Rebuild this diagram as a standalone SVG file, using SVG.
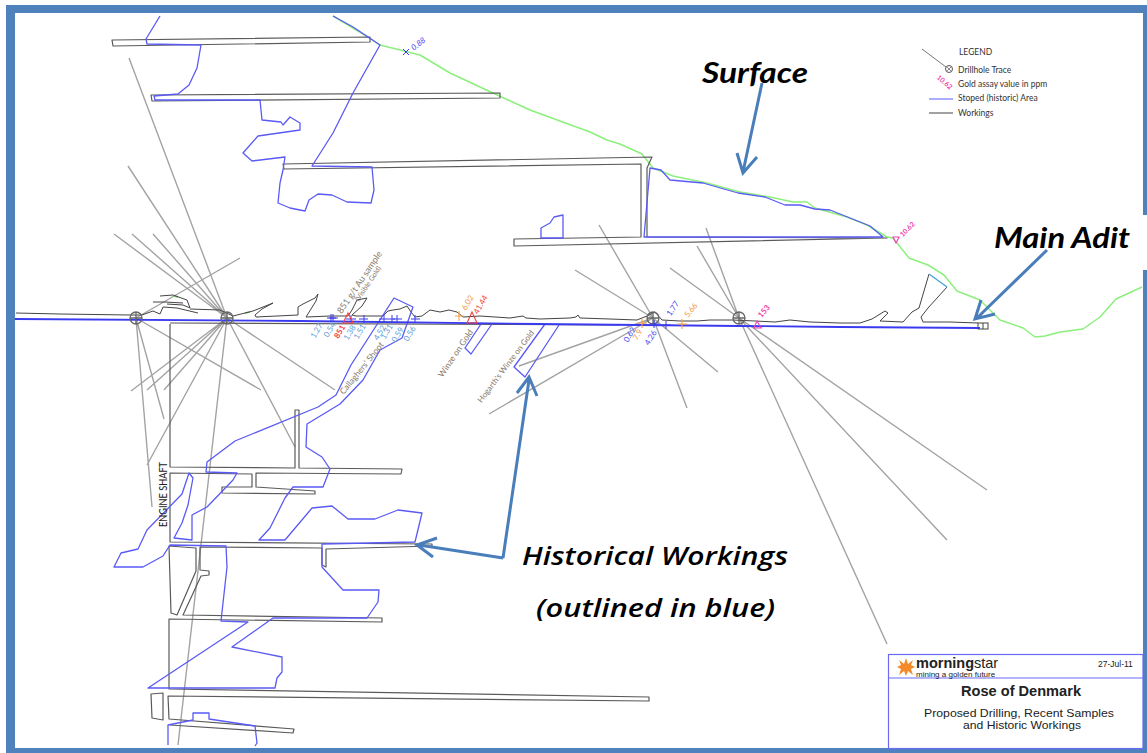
<svg xmlns="http://www.w3.org/2000/svg" width="1147" height="753" viewBox="0 0 1147 753">
<style>
.wk{fill:none;stroke:#5a5a5a;stroke-width:1.2;stroke-linejoin:round}
.mn{fill:none;stroke:#444;stroke-width:1;stroke-linejoin:round}
.st{fill:none;stroke:#5a5af5;stroke-width:1.3;stroke-linejoin:round}
.dh{fill:none;stroke:#a3a3a3;stroke-width:1.4}
.gr{fill:none;stroke:#8cf07c;stroke-width:1.5;stroke-linejoin:round}
.col{fill:none;stroke:#666;stroke-width:1.3}
.ar{fill:none;stroke:#4a7ebb;stroke-width:3;stroke-linejoin:miter}
.cb{stroke:#3a3af0;stroke-width:1;fill:none}
.co{stroke:#f7a24a;stroke-width:1.1;fill:none}
text{font-family:"Lato","Open Sans","Liberation Sans",sans-serif}
.s{font-size:8px;text-anchor:middle}
.lb{fill:#5b9bd5}.lu{fill:#4848f0}.lr{fill:#f24040}.lo{fill:#f79646}.lm{fill:#f040b0}
.br{font-size:8.500px;fill:#85786a;text-anchor:middle}
.lg{font-size:8.500px;fill:#333}
.big{font-weight:700;font-style:italic;fill:#000}
.tb{font-family:"Liberation Sans",Arial,sans-serif;fill:#222;text-anchor:middle}
</style>
<rect width="1147" height="753" fill="#fff"/>
<g id="frame" fill="#4f81bd">
<rect x="6" y="5" width="1141" height="8"/><rect x="6" y="5" width="9" height="748"/><rect x="1143" y="5" width="4" height="748"/><rect x="6" y="748" width="1141" height="5"/>
</g>
<g id="drillholes">
<path class="dh" d="M227 318L129 58M227 318L128 166M227 318L114 234M227 318L132 234M227 318L153 234M227 318L131 391M227 318L147 390M227 318L164 390M227 318L147 465M227 318L178 745M227 318L295 447M227 318L335 390M136 318L240 258M136 318L261 390M136 318L164 419M136 318L152 507"/>
<path class="dh" d="M653 318L599 225M653 318L575 270M653 318L687 408M653 318L718 372M653 318L489 414M653 318L519 366M739 318L670 268M739 318L706 228M739 318L697 246M739 318L887 644M739 318L947 540M739 318L987 490"/>
</g>
<g id="surface">
<path class="gr" d="M333 16L368 37L380 45L420 55L450 73L480 87L530 110L590 132L607 140L620 144L642 154L653 168L673 176L707 183L740 192L770 197L793 202L807 202L815 208L847 217L867 225L887 237L893 238L909 258L928 265L944 275L957 291L980 300L1000 320L1023 328L1035 337L1045 336L1060 332L1083 329L1100 317L1116 299L1142 287"/>
<path d="M174 296L178 297M245 313L250 312" fill="none" stroke="#6cc860" stroke-width="1.500"/>
</g>
<g id="workings">
<path class="wk" d="M112 40L370 37L370 42L113 46Z"/>
<path class="wk" d="M151 95L500 93L500 98L152 101Z"/>
<path class="wk" d="M283 164L652 157L647 168L647 237L887 238L514 246L514 239L641 237L641 164L284 169Z"/>
<path class="wk" d="M170 323L620 325M170 324L170 467L295 468L295 410L299 410L299 468L402 469L401 474L256 473L256 487L315 491L315 494L222 493L222 487L252 487L252 474L170 473L170 542L432 544L432 546L326 549L326 567L322 565L322 548L200 547L200 570L209 571L209 575L201 576L183 615L382 618L382 622L169 619L169 689L649 697L649 701L168 696L169 719L294 729L293 733L170 725"/>
<path class="wk" d="M169 546L196 548L196 571L177 615L171 613Z"/>
<path class="wk" d="M151 694L163 693L163 720L152 718Z"/>
<path class="mn" d="M16 313L60 314L130 315L142 315L153 311L160 314L163 307L177 308L198 313M190 309L220 310L233 316L253 311L273 303L262 309L255 315L256 317L298 315L298 307L303 304L315 298L318 294L316 301L306 317L330 316L348 316L352 310L357 300L367 298L362 306L352 315L356 316L383 316L388 311L393 310L400 309L407 306L411 312L415 317L422 316L430 310L440 312L449 310L457 312L463 317L480 316L510 318L523 316L526 318L540 319L570 318L576 317L578 315L580 318L610 319L637 320L647 316L655 312L662 320L680 321L697 321L710 320L733 320L755 321L775 322L790 320L810 322L840 323L860 323L872 319L885 311L888 313L880 321L903 322L912 312L919 308L929 274M947 287L928 308L921 317L923 322L950 322L978 323"/>
<path class="mn" d="M190 308L187 300L173 295L160 296M183 303L165 302L153 302M167 304L183 305L190 308"/>
<path d="M929 274L947 287" fill="none" stroke="#4aa8d8" stroke-width="1.5"/>
<rect x="978" y="323" width="10" height="6" fill="none" stroke="#444" stroke-width="1"/>
<path d="M983 323V329" stroke="#444" fill="none"/>
</g>
<g id="stopes">
<path class="st" d="M160 16L146 39L147 44L201 45L197 68L189 85L178 94L154 96L155 100L260 100L262 120L281 122L283 125L290 117L300 123L300 130L258 136L243 153L252 161L285 157L283 170L280 183L278 203L290 208L305 211L309 200L318 194L332 195L347 202L371 203L374 190L372 167L312 166L333 133L353 93L380 45L368 37L353 27L333 16"/>
<path class="st" d="M644 237L650 168L661 170L670 180L703 183L738 193L765 197L785 205L800 205L815 209L830 210L850 218L870 226L883 237Z"/>
<path class="st" d="M541 238L541 228L550 223L554 217L563 215L563 238Z"/>
<path class="st" d="M394 298L413 307L402 338L380 350L363 380L340 404L307 424L306 447L322 457L330 469L323 487L293 487L285 498L270 528L259 540L285 540L312 508L332 506L348 519L375 519L398 510L422 513L415 542L322 544L322 567L343 590L379 590L378 602L367 618L273 618L232 647L282 657L282 672L277 678L275 688L148 688L248 622L221 621L227 567L226 546L170 545L163 556L143 567L114 567L121 553L138 549L147 530L182 494L189 473L193 478L188 505L182 523L174 538L192 540L192 515L207 507L233 480L237 473L206 472L207 462L235 441L318 407L336 395L351 365Z"/>
<path class="st" d="M168 745L168 725L193 720L193 713L209 713L209 719L255 726L257 743L255 746"/>
<path class="st" d="M481 324L465 348L471 354L492 324"/>
<path class="st" d="M545 324L514 367L525 377L559 325"/>
<path d="M15 319L300 321L540 324L840 327L980 328" fill="none" stroke="#3a3af0" stroke-width="1.800"/>
</g>
<g id="collars">
<circle class="col" cx="136" cy="318" r="6"/><path class="col" d="M130 318H142M136 312V324"/>
<circle class="col" cx="227" cy="318" r="6"/><path class="col" d="M221 318H233M227 312V324"/>
<circle class="col" cx="653" cy="318" r="6"/><path class="col" d="M647 318H659M653 312V324"/>
<circle class="col" cx="739" cy="318" r="6"/><path class="col" d="M733 318H745M739 312V324"/>
</g>
<g id="samples">
<path class="cb" d="M327 318H336M331 314V322M329 318H338M333 314V322M346 319H356M351 315V323M359 319H368M364 315V323M379 319H388M384 315V323M388 319H395M392 315V323M393 319H402M397 315V323M411 319H420M415 315V323M403 49L409 55M409 49L403 55M650 324H659M654 320V328M662 325H671M666 321V329"/>
<path class="co" d="M455 316H464M459 311V321M638 323H647M642 319V328M677 324H687M682 319V329"/>
<path d="M348 313L343 323L353 323Z" fill="none" stroke="#f24040" stroke-width="1.100"/>
<path d="M472 312L467 323L477 323Z" fill="none" stroke="#f24040" stroke-width="1.100"/>
<path d="M757 321L754 328L761 328Z" fill="none" stroke="#f040b0" stroke-width="1.100"/>
<path d="M893 237L899 237L896 243Z" fill="none" stroke="#f040b0" stroke-width="1.100"/>
<text class="s lu" font-style="italic" transform="translate(420 46) rotate(-38)">0.88</text>
<text class="s lb" transform="translate(319 332) rotate(-60)">1.27</text>
<text class="s lb" transform="translate(332 331) rotate(-60)">0.54</text>
<text class="s lr" transform="translate(342 333) rotate(-60)" font-weight="700">851</text>
<text class="s lb" transform="translate(352 334) rotate(-60)">1.38</text>
<text class="s lb" transform="translate(362 333) rotate(-60)">1.51</text>
<text class="s lb" transform="translate(382 334) rotate(-60)">4.52</text>
<text class="s lb" transform="translate(389 333) rotate(-60)">1.31</text>
<text class="s lb" transform="translate(400 336) rotate(-60)">0.59</text>
<text class="s lb" transform="translate(412 335) rotate(-60)">0.56</text>
<text class="s lo" transform="translate(470 304) rotate(-60)">6.02</text>
<text class="s lr" transform="translate(483 306) rotate(-60)">41.44</text>
<text class="s lu" transform="translate(632 336) rotate(-60)">0.62</text>
<text class="s lo" transform="translate(640 336) rotate(-60)">7.9</text>
<text class="s lu" transform="translate(653 339) rotate(-60)">4.26</text>
<text class="s lu" transform="translate(675 310) rotate(-55)">1.77</text>
<text class="s lo" transform="translate(693 312) rotate(-50)">5.66</text>
<text class="s lm" font-weight="700" transform="translate(766 313) rotate(-50)">153</text>
<text class="s lm" font-weight="700" style="font-size:7px" transform="translate(909 231) rotate(-45)">10.62</text>
</g>
<g id="labels">
<text class="br" style="font-size:9px" transform="translate(362 284) rotate(-56)">851 g/t Au sample</text>
<text class="br" style="font-size:7px" transform="translate(370 285) rotate(-56)">(Visible Gold)</text>
<text class="br" transform="translate(364 370) rotate(-51)">Callaghers' Shoot</text>
<text class="br" transform="translate(458 355) rotate(-56)">Winze on Gold</text>
<text class="br" style="font-size:8px" transform="translate(508 368) rotate(-53)">Hogarth's Winze on Gold</text>
<text transform="translate(167 527) rotate(-90)" font-size="10.500" fill="#222" textLength="65" lengthAdjust="spacingAndGlyphs">ENGINE SHAFT</text>
</g>
<g id="legend">
<path d="M922 49L946 67" stroke="#777" stroke-width="1" fill="none"/>
<circle cx="949" cy="69" r="3.500" fill="none" stroke="#555"/><path d="M947 67L951 71M951 67L947 71" stroke="#555" stroke-width=".7"/>
<text class="lg" x="959" y="55">LEGEND</text>
<text class="lg" x="958" y="72.500">Drillhole Trace</text>
<text class="lg" x="958" y="87">Gold assay value in ppm</text>
<text class="lg" x="958" y="101">Stoped (historic) Area</text>
<text class="lg" x="958" y="116">Workings</text>
<text class="s lm" font-weight="700" style="font-size:7px" transform="translate(943 84) rotate(40)">10.62</text>
<path d="M929 99H953" stroke="#9999ff" stroke-width="1.600"/>
<path d="M929 113H953" stroke="#555" stroke-width="1.100"/>
</g>
<g id="annotations">
<rect x="990" y="215" width="157" height="55" fill="#fff"/>
<text class="big" x="702" y="83" font-size="28" textLength="106" lengthAdjust="spacingAndGlyphs">Surface</text>
<text class="big" x="994" y="248" font-size="28" textLength="136" lengthAdjust="spacingAndGlyphs">Main Adit</text>
<text class="big" style="font-family:'Open Sans','Liberation Sans',sans-serif;font-weight:600" x="522" y="565" font-size="25" textLength="266" lengthAdjust="spacingAndGlyphs">Historical Workings</text>
<text class="big" style="font-family:'Open Sans','Liberation Sans',sans-serif;font-weight:600" x="536" y="617" font-size="25" textLength="239" lengthAdjust="spacingAndGlyphs">(outlined in blue)</text>
<path class="ar" d="M762 83L743 172M737 153L743 173L757 157"/>
<path class="ar" d="M1047 250L977 318M981 300L975 319L995 314"/>
<path class="ar" d="M503 558L419 545M437 538L417 545L433 557M503 558L529 380M517 393L529 377L537 396"/>
</g>
<g id="titleblock">
<rect x="888.500" y="654.500" width="254.500" height="94" fill="#fff" stroke="#6a6af5" stroke-width="1.200"/>
<path d="M888 678H1143" stroke="#6a6af5" stroke-width="1.200"/>
<path d="M906 658L908 664L913 660L911 665L915 667L911 669L913 675L908 671L906 676L904 671L899 675L901 669L897 667L901 665L899 660L904 664Z" fill="#f58a2a"/>
<text class="tb" x="916" y="668" font-size="14.500" style="text-anchor:start"><tspan font-weight="700">morning</tspan>star</text>
<text class="tb" x="916" y="676.500" font-size="8" style="text-anchor:start">mining a golden future</text>
<text class="tb" x="1098" y="667" font-size="8.500" style="text-anchor:start">27-Jul-11</text>
<text class="tb" x="1021" y="696" font-size="14.600" font-weight="700">Rose of Denmark</text>
<text class="tb" x="1019" y="716.500" font-size="11.500" textLength="190" lengthAdjust="spacingAndGlyphs">Proposed Drilling, Recent Samples</text>
<text class="tb" x="1022" y="729" font-size="11.500" textLength="118" lengthAdjust="spacingAndGlyphs">and Historic Workings</text>
</g>
</svg>
